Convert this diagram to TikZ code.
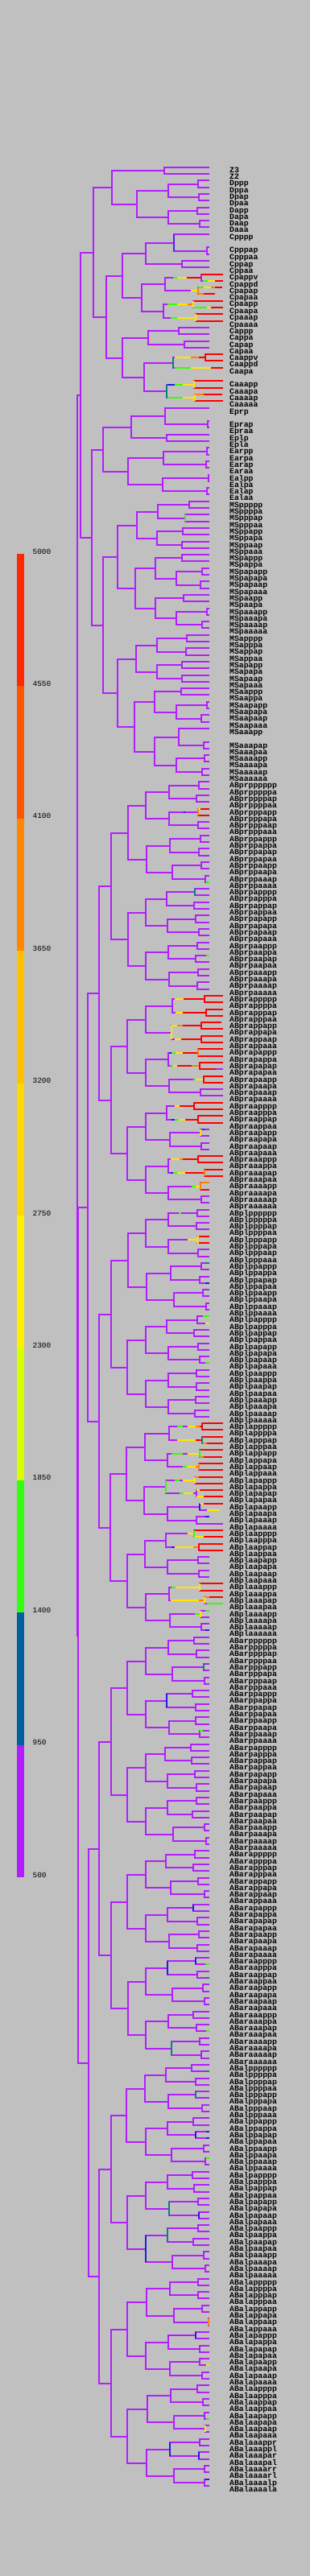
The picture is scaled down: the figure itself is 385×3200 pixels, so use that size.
\documentclass[tikz,border=0pt]{standalone}
\usepackage{fontspec}
\setmonofont{Liberation Mono}
\usetikzlibrary{calc}

% x of a cell is given in tree units: 80pt + x/3, kept on whole pixels
\newcommand{\splitCell}[4]{%
  \path let \p1=(#3), \p2=(#4) in coordinate (#1) at ({round(80+#2/3)*1pt},{round(0.5*\y1+0.5*\y2)*1pt});
  \draw[branch] (#3) -| (#1) |- (#4);}
\newcommand{\htint}[4]{%
  \draw[branch,draw=#1] let \p1=(#2) in ({round(80+#3/3)*1pt},\y1) -- ({round(80+#4/3)*1pt},\y1);}
\newcommand{\vtint}[4]{%
  \draw[branch,draw=#1] let \p1=(#2), \p2=(#3), \p3=(#4) in (\x1,\y2) -- (\x1,\y3);}

\begin{document}
\begin{tikzpicture}[x=1pt, y=-1pt,
    branch/.style={draw=lineColour, line width=2pt},
    leafLabel/.style={anchor=base west, inner sep=0pt, font=\ttfamily\bfseries\fontsize{9.8}{10}\selectfont},
    scaleLabel/.style={anchor=base west, inner sep=0pt, font=\ttfamily\fontsize{9.4}{10}\selectfont}]
    \definecolor{bgColour}{HTML}{C0C0C0}
    \definecolor{lineColour}{HTML}{B21EFF}
    \definecolor{exRed}{HTML}{FF0000}
    \definecolor{exOrange}{HTML}{FF8000}
    \definecolor{exYellow}{HTML}{FFE600}
    \definecolor{exGreen}{HTML}{33FF00}
    \definecolor{exBlue}{HTML}{1E1EE6}
    \definecolor{exTeal}{HTML}{00867A}
    \definecolor{exViolet}{HTML}{5A1EF0}

    \fill[bgColour] (0,0) rectangle (385,3200);
    \useasboundingbox (0,0) rectangle (385,3200);

    % Colour scale
    \foreach \c [count=\s from 0] in {FF2800,FF5500,FF8800,FFC000,FFD800,FFF000,D8FF00,30FF10,00609F,B01EFF} {
        \definecolor{barColour}{HTML}{\c}
        \fill[barColour] (21,{round(688+164.4*\s)}) rectangle (30,{round(688+164.4*(\s+1))});
    }
    \foreach \v [count=\s from 0] in {5000,4550,4100,3650,3200,2750,2300,1850,1400,950,500}
        \node[scaleLabel] (scale-\v) at (40.5,{688+164.4*\s}) {\v};

    % Leaves of the P1 lineages
    \foreach \cellName/\k in {Z3/0,Z2/1,Dppp/2,Dppa/3,Dpap/4,Dpaa/5,Dapp/6,Dapa/7,Daap/8,Daaa/9,
        Cpppp/10,Cpppap/12,Cpppaa/13,Cppap/14,Cppaa/15,Cpappv/16,Cpappd/17,Cpapap/18,Cpapaa/19,
        Cpaapp/20,Cpaapa/21,Cpaaap/22,Cpaaaa/23,Cappp/24,Cappa/25,Capap/26,Capaa/27,
        Caappv/28,Caappd/29,Caapa/30,Caaapp/32,Caaapa/33,Caaaap/34,Caaaaa/35,
        Eprp/36,Eprap/38,Epraa/39,Eplp/40,Epla/41,Earpp/42,Earpa/43,Earap/44,Earaa/45,
        Ealpp/46,Ealpa/47,Ealap/48,Ealaa/49,
        MSppppp/50,MSppppa/51,MSpppap/52,MSpppaa/53,MSppapp/54,MSppapa/55,MSppaap/56,MSppaaa/57,
        MSpappp/58,MSpappa/59,MSpapapp/60,MSpapapa/61,MSpapaap/62,MSpapaaa/63,
        MSpaapp/64,MSpaapa/65,MSpaaapp/66,MSpaaapa/67,MSpaaaap/68,MSpaaaaa/69,
        MSapppp/70,MSapppa/71,MSappap/72,MSappaa/73,MSapapp/74,MSapapa/75,MSapaap/76,MSapaaa/77,
        MSaappp/78,MSaappa/79,MSaapapp/80,MSaapapa/81,MSaapaap/82,MSaapaaa/83,
        MSaaapp/84,MSaaapap/86,MSaaapaa/87,MSaaaapp/88,MSaaaapa/89,MSaaaaap/90,MSaaaaaa/91} {
        \coordinate (\cellName) at (260,{round(207.7+8.3*\k)});
        \node[leafLabel] (lab-\cellName) at (285,{round(207.7+8.3*\k)+7}) {\cellName};
    }

    % Leaves of AB, 8 rounds
    \foreach \g [count=\gi from 0] in {pr,pl,ar,al}
    \foreach \qa [count=\ka from 0] in {p,a}
    \foreach \qb [count=\kb from 0] in {p,a}
    \foreach \qc [count=\kc from 0] in {p,a}
    \foreach \qd [count=\kd from 0] in {p,a}
    \foreach \qe [count=\ke from 0] in {p,a}
    \foreach \qf [count=\kf from 0] in {p,a} {
        \pgfmathtruncatemacro\slotIdx{64*\gi+32*\ka+16*\kb+8*\kc+4*\kd+2*\ke+\kf}
        \coordinate (n-8-\slotIdx) at (260,{round(207.7+8.3*(\slotIdx+92))});
        \ifnum\slotIdx<248
            \node[leafLabel] (lab-\slotIdx) at (285,{round(207.7+8.3*(\slotIdx+92))+7}) {AB\g\qa\qb\qc\qd\qe\qf};
        \fi
    }
    \foreach \t [count=\m from 248] in {ABalaaappr,ABalaaappl,ABalaaapar,ABalaaapal,ABalaaaarr,ABalaaaarl,ABalaaaalp,ABalaaaala}
        \node[leafLabel] (lab-\m) at (285,{round(207.7+8.3*(\m+92))+7}) {\t};

    % Leaves that run on
    \foreach \cellName/\k/\e in {Cpappv/16/590,Cpappd/17/590,Cpapap/18/587,Cpapaa/19/560,Cpaapp/20/590,
        Cpaapa/21/590,Cpaaap/22/590,Cpaaaa/23/590,Caappv/28/590,Caappd/29/590,Caapa/30/590,
        Caaapp/32/590,Caaapa/33/590,Caaaap/34/587,Caaaaa/35/590}
        \coordinate (\cellName) at ({round(80+\e/3)},{round(207.7+8.3*\k)});
    \foreach \i/\e in {32/590,33/590,34/590,35/590,36/585,37/590,38/590,39/590,40/590,41/590,
        42/590,43/590,44/590,45/590,46/590,47/590,48/590,49/590,50/590,51/590,56/590,57/590,
        58/590,59/590,96/590,97/590,98/590,99/590,100/590,101/587,102/590,103/590,104/590,
        105/590,106/590,107/590,108/590,109/578,111/590,112/590,113/590,114/590,115/590,
        120/590,121/590,122/590,123/590}
        \coordinate (n-8-\i) at ({round(80+\e/3)},{round(207.7+8.3*(\i+92))});

    % P1 lineages
    \foreach \cellName/\xv/\kidA/\kidB in {P4/373/Z3/Z2,Dpp/497/Dppp/Dppa,Dpa/500/Dpap/Dpaa,Dap/494/Dapp/Dapa,
        Daa/503/Daap/Daaa,Dp/386/Dpp/Dpa,Da/386/Dap/Daa,D/269/Dp/Da,P3/176/P4/D,
        Cpppa/530/Cpppap/Cpppaa,Cppp/407/Cpppp/Cpppa,Cppa/437/Cppap/Cppaa,Cpp/302/Cppp/Cppa,
        Cpapp/511/Cpappv/Cpappd,Cpapa/497/Cpapap/Cpapaa,Cpap/374/Cpapp/Cpapa,
        Cpaap/481/Cpaapp/Cpaapa,Cpaaa/488/Cpaaap/Cpaaaa,Cpaa/370/Cpaap/Cpaaa,Cpa/287/Cpap/Cpaa,
        Cp/215/Cpp/Cpa,Capp/426/Cappp/Cappa,Capa/446/Capap/Capaa,Cap/312/Capp/Capa,
        Caapp/524/Caappv/Caappd,Caap/404/Caapp/Caapa,Caaap/483/Caaapp/Caaapa,Caaaa/487/Caaaap/Caaaaa,
        Caaa/380/Caaap/Caaaa,Caa/296/Caap/Caaa,Ca/215/Cap/Caa,C/155/Cp/Ca,P2/107/P3/C,
        Epra/533/Eprap/Epraa,Epr/374/Eprp/Epra,Epl/380/Eplp/Epla,Ep/250/Epr/Epl,
        Earp/530/Earpp/Earpa,Eara/527/Earap/Earaa,Ear/368/Earp/Eara,Ealp/537/Ealpp/Ealpa,
        Eala/530/Ealap/Ealaa,Eal/365/Ealp/Eala,Ea/236/Ear/Eal,E/144/Ep/Ea,
        MSpppp/465/MSppppp/MSppppa,MSpppa/450/MSpppap/MSpppaa,MSppp/347/MSpppp/MSpppa,
        MSppap/440/MSppapp/MSppapa,MSppaa/437/MSppaap/MSppaaa,MSppa/344/MSppap/MSppaa,MSpp/270/MSppp/MSppa,
        MSpapp/437/MSpappp/MSpappa,MSpapap/512/MSpapapp/MSpapapa,MSpapaa/506/MSpapaap/MSpapaaa,
        MSpapa/416/MSpapap/MSpapaa,MSpap/338/MSpapp/MSpapa,
        MSpaap/443/MSpaapp/MSpaapa,MSpaaap/530/MSpaaapp/MSpaaapa,MSpaaaa/512/MSpaaaap/MSpaaaaa,
        MSpaaa/416/MSpaaap/MSpaaaa,MSpaa/338/MSpaap/MSpaaa,MSpa/263/MSpap/MSpaa,MSp/197/MSpp/MSpa,
        MSappp/455/MSapppp/MSapppa,MSappa/452/MSappap/MSappaa,MSapp/344/MSappp/MSappa,
        MSapap/437/MSapapp/MSapapa,MSapaa/437/MSapaap/MSapaaa,MSapa/344/MSapap/MSapaa,MSap/266/MSapp/MSapa,
        MSaapp/434/MSaappp/MSaappa,MSaapap/530/MSaapapp/MSaapapa,MSaapaa/509/MSaapaap/MSaapaaa,
        MSaapa/416/MSaapap/MSaapaa,MSaap/335/MSaapp/MSaapa,
        MSaaapa/518/MSaaapap/MSaaapaa,MSaaap/425/MSaaapp/MSaaapa,MSaaaap/521/MSaaaapp/MSaaaapa,
        MSaaaaa/512/MSaaaaap/MSaaaaaa,MSaaaa/416/MSaaaap/MSaaaaa,MSaaa/335/MSaaap/MSaaaa,
        MSaa/260/MSaap/MSaaa,MSa/197/MSap/MSaa,MS/144/MSp/MSa,EMS/101/E/MS,P1/60/P2/EMS}
        {\splitCell{\cellName}{\xv}{\kidA}{\kidB}}

    % AB, level by level from the leaves up
    \foreach \lv/\xs in {
        7/{500,491,497,497,506,500,509,524,485,482,488,500,494,488,497,494,
           521,527,509,509,497,503,518,506,482,497,506,509,497,521,506,509,
           494,491,494,497,509,503,515,527,494,482,497,503,491,491,488,485,
           512,512,503,500,485,491,503,491,482,500,497,500,503,521,506,509,
           482,491,518,521,476,488,488,503,470,473,485,491,491,476,521,527,
           485,479,497,521,479,494,500,494,488,494,515,521,479,491,503,509,
           473,488,488,512,479,488,518,524,476,482,497,500,497,479,518,524,
           497,497,512,536,488,503,503,512,494,515,521,524,503,500,521,521},
        6/{389,389,392,401,380,383,386,389,401,398,386,389,380,392,386,386,
           386,386,395,407,380,386,386,386,389,383,377,383,377,383,389,392,
           386,401,380,389,374,383,383,404,377,395,383,389,383,401,386,398,
           377,386,383,398,383,389,383,401,392,407,386,392,395,407,392,407},
        5/{302,305,302,302,302,302,302,302,302,305,302,302,299,296,299,302,
           302,302,302,302,302,302,302,302,299,302,302,302,305,302,308,305},
        4/{236,236,233,233,236,233,230,233,233,233,233,236,230,233,233,233},
        3/{173,173,173,170,173,173,173,173},
        2/{128,128,128,128},
        1/{88,90},
        0/{52}} {
        \pgfmathtruncatemacro\lvc{\lv+1}
        \foreach \xv [count=\j from 0] in \xs {
            \pgfmathtruncatemacro\ja{2*\j}
            \pgfmathtruncatemacro\jb{2*\j+1}
            \splitCell{n-\lv-\j}{\xv}{n-\lvc-\ja}{n-\lvc-\jb}
        }
    }

    % Zygote
    \splitCell{P0}{47}{P1}{n-0-0}

    % Expression along the branches
    \foreach \nm/\xa/\xb in {Cpapp/405/420,Cpappd/515/535,Cpapap/497/520,Cpaap/385/420,Cpaapa/481/530,
        Cpaaa/395/420,Caapa/410/470,Caaap/410/440,Caaaa/385/440,
        n-8-15/528/540,n-8-26/528/540,n-7-20/400/415,n-7-21/395/405,n-7-22/480/490,n-7-25/410/425,
        n-7-29/405/420,n-7-30/475/490,n-7-32/425/435,n-8-80/515/540,n-8-87/525/540,n-7-48/420/440,
        n-7-50/400/440,n-7-51/440/455,n-7-52/410/430,n-7-53/430/445,n-7-60/400/415,n-8-123/530/590,
        n-7-62/485/506,n-8-124/525/540,n-8-142/505/515,n-8-177/525/540,n-8-187/528/540,
        n-8-206/528/540,n-8-245/528/540}
        {\htint{exGreen}{\nm}{\xa}{\xb}}
    \foreach \nm/\xa/\xb in {Caaap/385/410,n-7-2/443/450,n-7-20/390/400,n-7-25/400/410,n-7-29/395/405,
        n-8-52/515/522,n-8-75/525/540,n-8-110/525/540,n-8-127/525/540,n-7-57/400/410,
        n-8-202/528/540,n-8-203/528/540,n-8-254/525/540}
        {\htint{exBlue}{\nm}{\xa}{\xb}}
    \foreach \nm/\xa/\xb in {n-8-72/525/540,n-8-179/528/540,n-8-193/528/540}
        {\htint{exTeal}{\nm}{\xa}{\xb}}
    \foreach \nm/\xa/\xb in {Cpapp/420/455,Cpappd/535/560,Cpapa/472/497,Cpapap/520/545,Cpaap/420/460,
        Cpaapa/530/545,Cpaaa/420/488,Caapp/410/470,Caapa/470/545,Caaap/440/483,Caaaa/440/487,
        n-8-4/497/506,n-7-16/410/445,n-7-17/415/440,n-7-18/398/420,n-7-19/410/435,n-7-20/415/440,
        n-7-21/405/420,n-7-22/490/518,n-7-24/410/430,n-7-25/425/450,n-7-28/395/430,n-7-29/420/450,
        n-7-30/490/506,n-7-34/460/494,n-8-68/494/500,n-8-69/494/500,n-7-48/460/490,n-7-49/420/490,
        n-7-50/460/503,n-7-51/455/490,n-7-52/440/485,n-7-53/445/480,n-8-106/491/505,n-8-107/491/520,
        n-8-108/503/520,n-8-109/530/578,n-7-56/460/482,n-8-113/482/520,n-7-57/410/480,
        n-7-60/415/500,n-7-61/395/500,n-8-81/525/540,n-8-237/528/540}
        {\htint{exYellow}{\nm}{\xa}{\xb}}
    \foreach \nm/\xa/\xb in {Cpaap/460/481,Cpapap/545/560,Cpapaa/497/520,Caapp/470/500,Caaaap/487/520,
        n-7-18/420/440,n-7-21/475/503,n-7-28/430/440,n-8-60/506/540,n-7-48/490/505,n-8-99/512/530,
        n-8-101/503/520,n-7-51/490/500,n-8-104/485/500,n-7-57/480/500,n-7-61/500/521,n-8-122/521/540}
        {\htint{exOrange}{\nm}{\xa}{\xb}}
    \foreach \nm/\xa/\xb in {Cpapp/455/511,Cpappv/511/590,Cpappd/560/590,Cpapap/560/587,Cpapaa/520/560,
        Cpaapp/481/590,Cpaapa/545/590,Cpaaap/488/590,Cpaaaa/488/590,Caapp/500/524,Caappv/524/590,
        Caappd/524/590,Caapa/545/590,Caaapp/483/590,Caaapa/483/590,Caaaap/520/587,Caaaaa/487/590,
        n-7-16/445/521,n-7-17/440/527,n-7-18/440/509,n-7-19/435/509,n-7-20/440/497,n-7-21/420/475,
        n-7-24/430/482,n-7-25/450/497,n-7-28/440/497,n-7-29/450/521,n-7-48/505/512,n-7-49/490/512,
        n-8-4/506/540,n-8-5/497/540,n-8-32/521/590,n-8-33/521/590,n-8-34/527/590,n-8-35/527/590,
        n-8-36/509/585,n-8-37/509/590,n-8-38/509/590,n-8-39/509/590,n-8-40/497/590,n-8-41/497/590,
        n-8-42/503/590,n-8-43/503/565,n-8-44/518/590,n-8-45/518/590,n-8-48/482/590,n-8-49/482/590,
        n-8-50/497/590,n-8-51/497/590,n-8-56/497/590,n-8-57/497/590,n-8-58/521/590,n-8-59/521/590,
        n-8-61/506/540,n-8-68/500/540,n-8-69/500/540,n-8-96/512/590,n-8-97/512/590,n-8-98/512/590,
        n-8-99/530/590,n-8-100/503/590,n-8-101/520/587,n-8-102/500/590,n-8-103/500/590,
        n-8-104/500/590,n-8-105/485/590,n-8-106/505/590,n-8-107/520/590,n-8-108/520/590,
        n-8-112/482/590,n-8-113/520/590,n-8-114/500/590,n-8-115/500/590,n-8-120/503/590,
        n-8-121/503/590,n-8-122/540/590}
        {\htint{exRed}{\nm}{\xa}{\xb}}

    % Coloured division bars
    \foreach \c/\nm/\kidA/\kidB in {exViolet/Cppp/Cpppp/Cpppa,exOrange/Cpapa/Cpapap/Cpapaa,
        exYellow/Cpaap/Cpaapp/Cpaapa,exYellow/Cpaaa/Cpaaap/Cpaaaa,exTeal/Caap/Caapp/Caapa,
        exRed/Caapp/Caappv/Caappd,exTeal/Caaa/Caaap/Caaaa,exYellow/Caaap/Caaapp/Caaapa,
        exYellow/Caaaa/Caaaap/Caaaaa,exGreen/MSpppa/MSpppap/MSpppaa,
        exOrange/n-7-2/n-8-4/n-8-5,exTeal/n-7-8/n-8-16/n-8-17,exRed/n-7-16/n-8-32/n-8-33,
        exRed/n-7-17/n-8-34/n-8-35,exYellow/n-6-9/n-7-18/n-7-19,exRed/n-7-18/n-8-36/n-8-37,
        exRed/n-7-19/n-8-38/n-8-39,exOrange/n-7-20/n-8-40/n-8-41,exRed/n-7-21/n-8-42/n-8-43,
        exRed/n-7-22/n-8-44/n-8-45,exRed/n-7-24/n-8-48/n-8-49,exRed/n-7-25/n-8-50/n-8-51,
        exYellow/n-7-26/n-8-52/n-8-53,exRed/n-7-28/n-8-56/n-8-57,exOrange/n-7-29/n-8-58/n-8-59,
        exOrange/n-7-30/n-8-60/n-8-61,exYellow/n-7-34/n-8-68/n-8-69,exRed/n-7-48/n-8-96/n-8-97,
        exTeal/n-7-49/n-8-98/n-8-99,exGreen/n-7-50/n-8-100/n-8-101,exOrange/n-7-51/n-8-102/n-8-103,
        exGreen/n-6-26/n-7-52/n-7-53,exYellow/n-7-52/n-8-104/n-8-105,exBlue/n-7-54/n-8-108/n-8-109,
        exGreen/n-7-56/n-8-112/n-8-113,exRed/n-7-57/n-8-114/n-8-115,exYellow/n-7-60/n-8-120/n-8-121,
        exYellow/n-7-61/n-8-122/n-8-123,exYellow/n-7-62/n-8-124/n-8-125,exTeal/n-7-66/n-8-132/n-8-133,
        exBlue/n-6-34/n-7-68/n-7-69,exBlue/n-7-84/n-8-168/n-8-169,exBlue/n-6-44/n-7-88/n-7-89,
        exBlue/n-7-88/n-8-176/n-8-177,exTeal/n-6-47/n-7-94/n-7-95,exTeal/n-7-98/n-8-196/n-8-197,
        exBlue/n-7-101/n-8-202/n-8-203,exTeal/n-6-53/n-7-106/n-7-107,exBlue/n-7-107/n-8-214/n-8-215,
        exTeal/n-6-54/n-7-108/n-7-109,exBlue/n-5-27/n-6-54/n-6-55,exOrange/n-7-115/n-8-230/n-8-231,
        exBlue/n-7-116/n-8-232/n-8-233,exYellow/n-7-123/n-8-246/n-8-247,exBlue/n-7-125/n-8-250/n-8-251,
        exBlue/n-6-62/n-7-124/n-7-125}
        {\vtint{\c}{\nm}{\kidA}{\kidB}}

\end{tikzpicture}
\end{document}
